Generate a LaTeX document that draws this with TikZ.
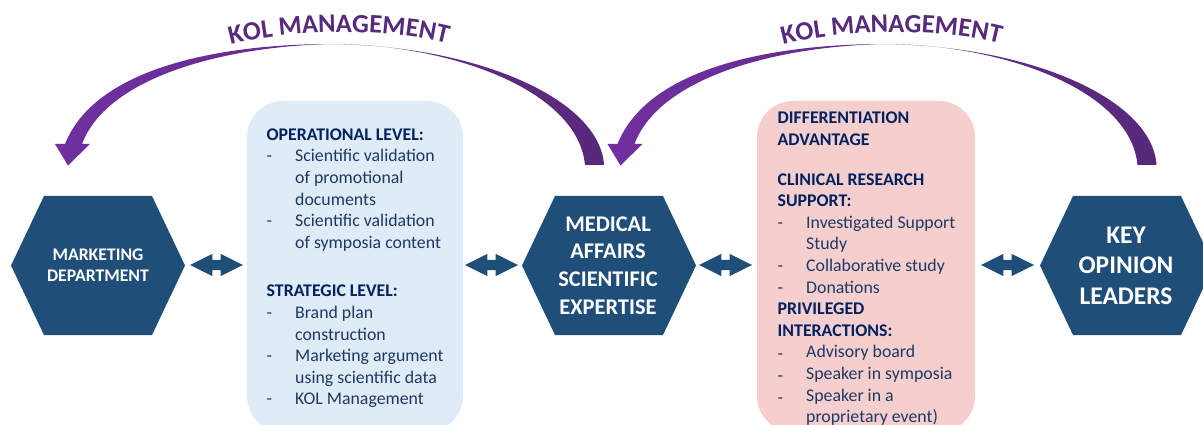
\documentclass[tikz,border=0pt]{standalone}
\usepackage{fontspec}
\setmainfont{Carlito}
\usetikzlibrary{shapes.arrows,decorations.text}
\definecolor{hexblue}{HTML}{1F4E79}
\definecolor{boxblue}{HTML}{DFEBF6}
\definecolor{boxpink}{HTML}{F4CFCE}
\definecolor{headnavy}{HTML}{002060}
\definecolor{bodynavy}{HTML}{1F3864}
\definecolor{kolleft}{HTML}{7030A0}
\definecolor{kolright}{HTML}{57297A}
\definecolor{koltext}{HTML}{582A7C}
\newcommand{\hd}[1]{\multicolumn{2}{@{}l@{}}{\textbf{\textcolor{headnavy}{#1}}}}
\newcommand{\ls}{\raisebox{-2pt}{-}}
\tikzset{
  biarrow/.style={double arrow,fill=hexblue,draw=none,inner xsep=0pt,inner ysep=5pt,minimum height=53pt,
    double arrow head extend=6pt,double arrow head indent=0pt,double arrow tip angle=53},
  infotext/.style={anchor=north west,inner sep=0pt,text=bodynavy,font=\fontsize{17.8}{21.6}\selectfont},
  hexlabel/.style={text=white,align=center},
  infobox/.style={rounded corners=36pt},
  kolband/.style={left color=kolleft,right color=kolright,draw=none},
}
\begin{document}
\begin{tikzpicture}[x=1pt,y=-1pt]
\useasboundingbox (0,0) rectangle (1203,425);
\clip (0,0) rectangle (1203,425);
% info boxes
\fill[boxblue,infobox] (247,101) rectangle (463,432);
\fill[boxpink,infobox] (757,101) rectangle (975,432);
% hexagons
\fill[hexblue] (11,265.5)--(44,196)--(152,196)--(185,265.5)--(152,335)--(44,335)--cycle;
\fill[hexblue] (522,265.5)--(555,196)--(663,196)--(696,265.5)--(663,335)--(555,335)--cycle;
\fill[hexblue] (1040,265.5)--(1073,196)--(1181,196)--(1214,265.5)--(1181,335)--(1073,335)--cycle;
\node[hexlabel,font=\bfseries\fontsize{17.7}{21}\selectfont] (mkt) at (98,265) {MARKETING\\DEPARTMENT};
\node[hexlabel,font=\bfseries\fontsize{22.4}{27.6}\selectfont] (med) at (608,265.5) {MEDICAL\\AFFAIRS\\SCIENTIFIC\\EXPERTISE};
\node[hexlabel,font=\bfseries\fontsize{25.4}{30.5}\selectfont] (kol) at (1126,265.5) {KEY\\OPINION\\LEADERS};
% double arrows
\node[biarrow] (a1) at (216.5,265) {};
\node[biarrow] (a2) at (491.5,265) {};
\node[biarrow] (a3) at (725.5,265) {};
\node[biarrow] (a4) at (1007.5,265) {};
% text
\node[infotext] (optext) at (266.5,125) {\begin{tabular}{@{}p{28.5pt}@{}l@{}}
\hd{OPERATIONAL LEVEL:}\\
-&Scientific validation\\
&of promotional\\
&documents\\
-&Scientific validation\\
&of symposia content\\[27pt]
\hd{STRATEGIC LEVEL:}\\
-&Brand plan\\
&construction\\
-&Marketing argument\\
&using scientific data\\
-&KOL Management
\end{tabular}};
\node[infotext] (diff) at (777.5,108.5) {\begin{tabular}{@{}p{28.5pt}@{}l@{}}
\hd{DIFFERENTIATION}\\
\hd{ADVANTAGE}\\[18pt]
\hd{CLINICAL RESEARCH}\\
\hd{SUPPORT:}\\
-&Investigated Support\\
&Study\\
-&Collaborative study\\
-&Donations\\
\hd{PRIVILEGED}\\
\hd{INTERACTIONS:}\\
\ls&Advisory board\\
\ls&Speaker in symposia\\
\ls&Speaker in a\\
&proprietary event)
\end{tabular}};
% KOL arrows
\foreach \sx in {0,552.5}{
\begin{scope}[xshift=\sx pt]
\path[kolband] (604,165) .. controls (600,100) and (480,46) .. (332,44)
  .. controls (230,44) and (97,64) .. (65,144)
  -- (55,144) -- (68,165.5) -- (90,144) -- (82,144)
  .. controls (108,75) and (230,46) .. (332,44)
  .. controls (450,44) and (578,90) .. (585,165) -- cycle;
\path[decorate,decoration={text along path,text align=center,
  text={|\fontsize{26.5}{26.5}\selectfont\bfseries\color{koltext}|KOL MANAGEMENT}}]
  (228,45.5) .. controls (290,28) and (390,28) .. (450,44.5);
\end{scope}}
\end{tikzpicture}
\end{document}
